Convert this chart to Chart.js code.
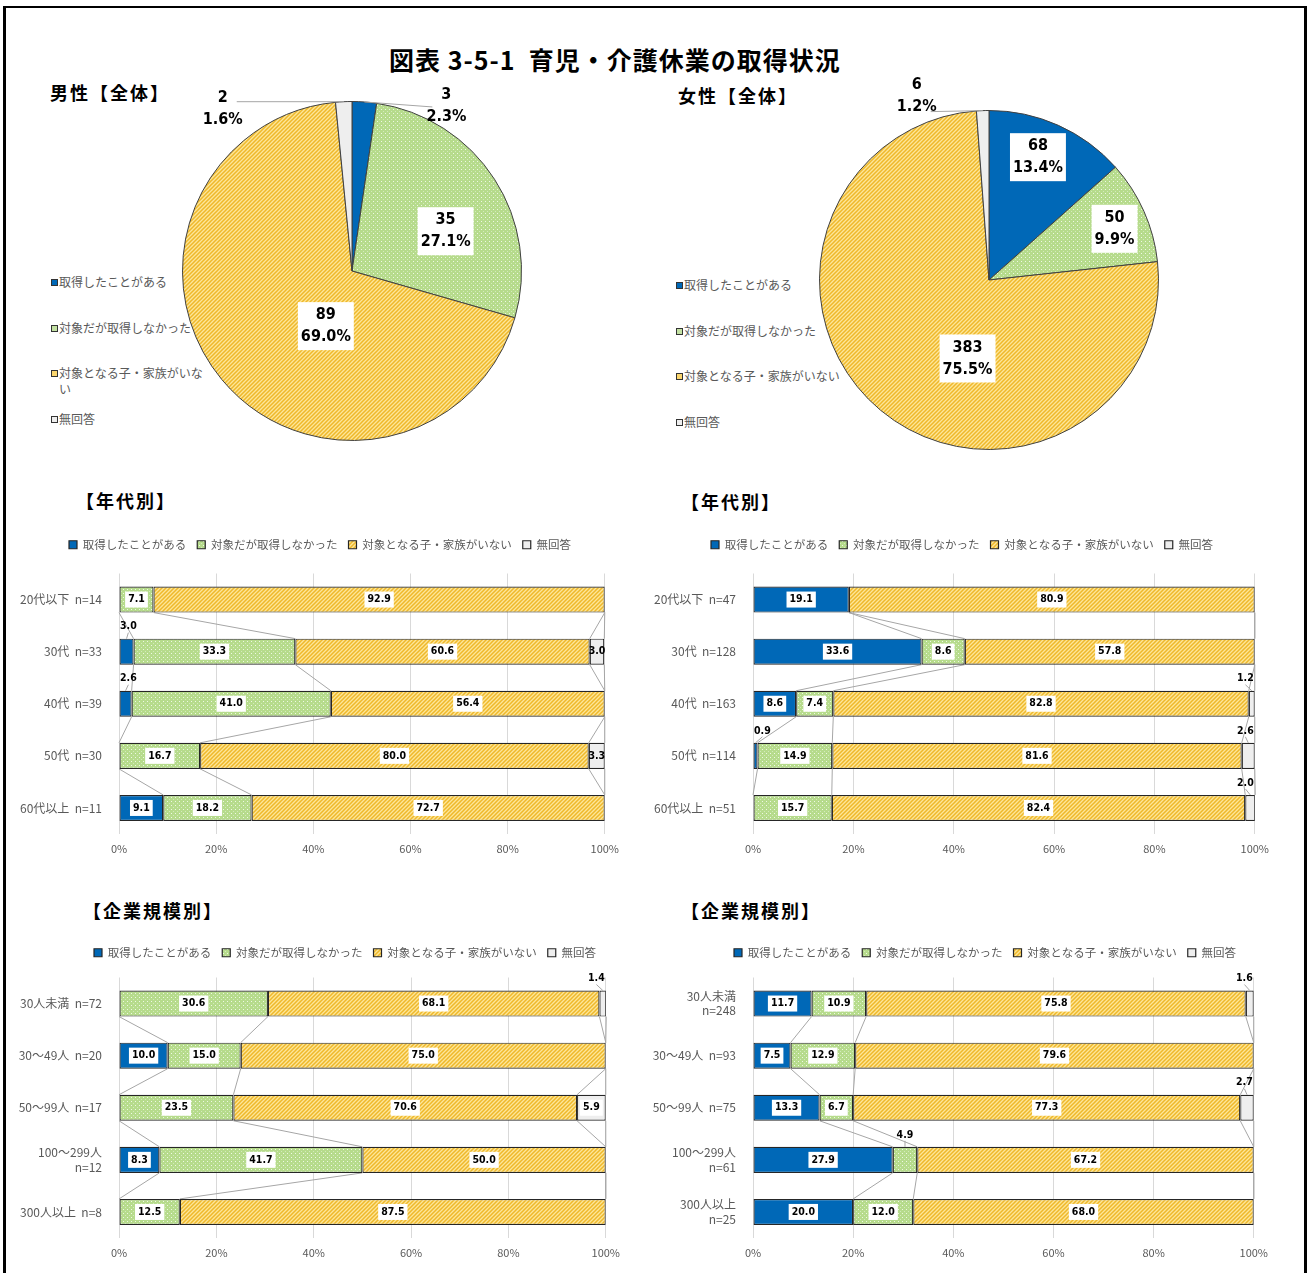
<!DOCTYPE html>
<html lang="ja">
<head>
<meta charset="utf-8">
<title>育児・介護休業の取得状況</title>
<script src="https://cdn.jsdelivr.net/npm/chart.js@4.4.1/dist/chart.umd.min.js"></script>
<style>
  body { margin: 0; background: #fff; font-family: "Noto Sans CJK JP", sans-serif; }
  #page { position: relative; width: 1309px; height: 1273px; overflow: hidden; }
  .frame { position: absolute; left: 3px; top: 6px; width: 1298px; height: 1320px; border: 3px solid #000; border-top-width: 2px; }
  .title { position: absolute; left: 389px; top: 43px; font-size: 25px; font-weight: bold; white-space: nowrap; line-height: 32px; letter-spacing: 1px; }
  .sub { position: absolute; font-size: 18px; font-weight: bold; white-space: nowrap; letter-spacing: 2px; line-height: 22px; }
  .pie-legend { position: absolute; font-size: 12px; color: #595959; line-height: 16px; }
  .pie-legend div { position: absolute; left: 0; white-space: normal; padding-left: 8px; }
  .pie-legend i { position: absolute; left: 0; top: 5px; width: 5px; height: 5px; border: 1px solid #333; }
  canvas { position: absolute; }
</style>
</head>
<body>
<div id="page">
  <div class="frame"></div>
  <div class="title">図表 3-5-1&nbsp;&nbsp;育児・介護休業の取得状況</div>

  <div class="sub" style="left:50px; top:81px;">男性【全体】</div>
  <div class="sub" style="left:678px; top:84px;">女性【全体】</div>
  <div class="sub" style="left:76px; top:489px;">【年代別】</div>
  <div class="sub" style="left:681px; top:490px;">【年代別】</div>
  <div class="sub" style="left:83px; top:899px;">【企業規模別】</div>
  <div class="sub" style="left:681px; top:899px;">【企業規模別】</div>

  <div class="pie-legend" id="legMale" style="left:51px; top:274px; width:160px;"></div>
  <div class="pie-legend" id="legFemale" style="left:676px; top:277px; width:200px;"></div>

  <canvas id="pieMale" width="430" height="380" style="left:140px; top:80px;"></canvas>
  <canvas id="pieFemale" width="420" height="420" style="left:780px; top:60px;"></canvas>
  <canvas id="ageMale" width="617" height="330" style="left:10px; top:528px;"></canvas>
  <canvas id="ageFemale" width="632" height="330" style="left:645px; top:528px;"></canvas>
  <canvas id="sizeMale" width="618" height="326" style="left:10px; top:936px;"></canvas>
  <canvas id="sizeFemale" width="631" height="326" style="left:645px; top:936px;"></canvas>
</div>

<script>
// 回答区分
const answers = ['取得したことがある', '対象だが取得しなかった', '対象となる子・家族がいない', '無回答'];

// 全体（人数）
const maleTotal = [3, 35, 89, 2];
const femaleTotal = [68, 50, 383, 6];

// 年代別（%）男性
const ageMaleCats = ['20代以下  n=14', '30代  n=33', '40代  n=39', '50代  n=30', '60代以上  n=11'];
const ageMaleTook = [0, 3.0, 2.6, 0, 9.1];
const ageMaleDidnt = [7.1, 33.3, 41.0, 16.7, 18.2];
const ageMaleNone = [92.9, 60.6, 56.4, 80.0, 72.7];
const ageMaleNoAns = [0, 3.0, 0, 3.3, 0];

// 年代別（%）女性
const ageFemaleCats = ['20代以下  n=47', '30代  n=128', '40代  n=163', '50代  n=114', '60代以上  n=51'];
const ageFemaleTook = [19.1, 33.6, 8.6, 0.9, 0];
const ageFemaleDidnt = [0, 8.6, 7.4, 14.9, 15.7];
const ageFemaleNone = [80.9, 57.8, 82.8, 81.6, 82.4];
const ageFemaleNoAns = [0, 0, 1.2, 2.6, 2.0];

// 企業規模別（%）男性
const sizeMaleCats = ['30人未満  n=72', '30～49人  n=20', '50～99人  n=17', ['100～299人', 'n=12'], '300人以上  n=8'];
const sizeMaleTook = [0, 10.0, 0, 8.3, 0];
const sizeMaleDidnt = [30.6, 15.0, 23.5, 41.7, 12.5];
const sizeMaleNone = [68.1, 75.0, 70.6, 50.0, 87.5];
const sizeMaleNoAns = [1.4, 0, 5.9, 0, 0];

// 企業規模別（%）女性
const sizeFemaleCats = [['30人未満', 'n=248'], '30～49人  n=93', '50～99人  n=75', ['100～299人', 'n=61'], ['300人以上', 'n=25']];
const sizeFemaleTook = [11.7, 7.5, 13.3, 27.9, 20.0];
const sizeFemaleDidnt = [10.9, 12.9, 6.7, 4.9, 12.0];
const sizeFemaleNone = [75.8, 79.6, 77.3, 67.2, 68.0];
const sizeFemaleNoAns = [1.6, 0, 2.7, 0, 0];

const xTicks = [0, 20, 40, 60, 80, 100];

Chart.defaults.font.family = '"Noto Sans CJK JP", sans-serif';
Chart.defaults.color = '#595959';

const NUM_FONT = '"Liberation Sans Narrow", "DejaVu Sans Condensed", "Liberation Sans", sans-serif';

// fill textures: dotted green, hatched yellow
function dotPattern() {
  const c = document.createElement('canvas');
  c.width = 4; c.height = 4;
  const g = c.getContext('2d');
  g.fillStyle = '#b6db8c';
  g.fillRect(0, 0, 4, 4);
  g.fillStyle = '#eef8e4';
  g.fillRect(1, 1, 1, 1);
  g.fillStyle = '#d3ebbb';
  g.fillRect(3, 3, 1, 1);
  return g.createPattern(c, 'repeat');
}
function hatchPattern() {
  const c = document.createElement('canvas');
  c.width = 4; c.height = 4;
  const g = c.getContext('2d');
  g.fillStyle = '#fde699';
  g.fillRect(0, 0, 4, 4);
  g.strokeStyle = '#efb82a';
  g.lineWidth = 1.5;
  g.beginPath();
  g.moveTo(0, 4); g.lineTo(4, 0);
  g.moveTo(-1, 1); g.lineTo(1, -1);
  g.moveTo(3, 5); g.lineTo(5, 3);
  g.stroke();
  return g.createPattern(c, 'repeat');
}
const fills = ['#0068b7', dotPattern(), hatchPattern(), '#eeeeee'];
const swatch = ['#0068b7', '#c3e1a2', '#fbd66e', '#eeeeee'];

// pie legends
function pieLegend(id, step) {
  const box = document.getElementById(id);
  answers.forEach((a, k) => {
    const d = document.createElement('div');
    d.style.top = (k * step) + 'px';
    d.innerHTML = '<i style="background:' + swatch[k] + '"></i>' + a;
    box.appendChild(d);
  });
}
pieLegend('legMale', 45.7);
pieLegend('legFemale', 45.7);

// pie labels: count + share, inside a white box or outside with a leader
const pieLabels = {
  id: 'pieLabels',
  afterDatasetsDraw(chart, args, opts) {
    const ctx = chart.ctx;
    const vals = chart.data.datasets[0].data;
    const total = vals.reduce((a, b) => a + b, 0);
    ctx.save();
    ctx.font = 'bold 16px ' + NUM_FONT;
    ctx.textAlign = 'center';
    ctx.textBaseline = 'middle';
    chart.getDatasetMeta(0).data.forEach((arc, i) => {
      const pct = (vals[i] / total * 100).toFixed(1) + '%';
      const r = arc.outerRadius;
      const out = opts.outside[i];
      let lx, ly;
      if (out) {
        const mid = (arc.startAngle + arc.endAngle) / 2;
        const ex = arc.x + Math.cos(mid) * r;
        const ey = arc.y + Math.sin(mid) * r;
        lx = ex + out[0];
        ly = ey + out[1];
        const sg = Math.sign(out[0]);
        ctx.strokeStyle = '#a6a6a6';
        ctx.lineWidth = 1;
        ctx.beginPath();
        ctx.moveTo(ex, ey);
        ctx.lineTo(lx - sg * 14, ey + out[2]);
        ctx.stroke();
      } else {
        // [radius fraction, share of the arc where the label sits]
        const [f, t] = opts.inside[i];
        const ang = arc.startAngle + (arc.endAngle - arc.startAngle) * t;
        lx = arc.x + Math.cos(ang) * r * f;
        ly = arc.y + Math.sin(ang) * r * f;
        const w = Math.max(ctx.measureText(pct).width, ctx.measureText(String(vals[i])).width) + 6;
        ctx.fillStyle = '#ffffff';
        ctx.fillRect(lx - w / 2, ly - 24, w, 48);
      }
      ctx.fillStyle = '#000';
      ctx.fillText(String(vals[i]), lx, ly - 11);
      ctx.fillText(pct, lx, ly + 11);
    });
    ctx.restore();
  }
};

function pie(id, data, pad, labelOpts) {
  return new Chart(document.getElementById(id), {
    type: 'pie',
    data: {
      labels: answers,
      datasets: [{
        data: data,
        backgroundColor: fills,
        borderColor: '#404040',
        borderWidth: 1
      }]
    },
    options: {
      responsive: false,
      animation: false,
      layout: { padding: pad },
      plugins: {
        legend: { display: false },
        tooltip: { enabled: false },
        pieLabels: labelOpts
      }
    },
    plugins: [pieLabels]
  });
}

pie('pieMale', maleTotal, { left: 42, right: 48, top: 21, bottom: 19 },
  { inside: [null, [0.6, 0.6], [0.36, 0.4], null], outside: { 0: [82, 4, 5], 3: [-121, 7, 0] } });
pie('pieFemale', femaleTotal, { left: 39, right: 41, top: 50, bottom: 30 },
  { inside: [[0.78, 0.45], [0.8, 0.55], [0.48, 0.41], null], outside: { 3: [-66, -15, 1] } });

// extra room under the legend, and a sideways nudge of its row
function legendPlace(extra, shift) {
  return {
    id: 'legendPlace',
    beforeInit(chart) {
      const fit = chart.legend.fit;
      chart.legend.fit = function () {
        fit.bind(chart.legend)();
        this.height += extra;
      };
    },
    afterLayout(chart) {
      chart.legend.left += shift;
      chart.legend.right += shift;
    }
  };
}

// Excel-style series lines joining the segment edges of neighbouring bars
const seriesLines = {
  id: 'seriesLines',
  beforeDatasetsDraw(chart) {
    const ctx = chart.ctx;
    ctx.save();
    ctx.strokeStyle = '#a6a6a6';
    ctx.lineWidth = 1;
    chart.data.datasets.forEach((ds, di) => {
      const bars = chart.getDatasetMeta(di).data;
      for (let i = 0; i < bars.length - 1; i++) {
        const a = bars[i], b = bars[i + 1];
        ctx.beginPath();
        ctx.moveTo(a.x, a.y + a.height / 2);
        ctx.lineTo(b.x, b.y - b.height / 2);
        ctx.stroke();
      }
    });
    ctx.restore();
  }
};

// value labels on the segments
const barLabels = {
  id: 'barLabels',
  afterDatasetsDraw(chart, args, opts) {
    const ctx = chart.ctx;
    const area = chart.chartArea;
    ctx.save();
    ctx.font = 'bold 10.5px ' + NUM_FONT;
    ctx.textAlign = 'center';
    ctx.textBaseline = 'middle';
    chart.data.datasets.forEach((ds, di) => {
      chart.getDatasetMeta(di).data.forEach((bar, i) => {
        const v = ds.data[i];
        if (!v) return;
        const txt = v.toFixed(1);
        const tw = ctx.measureText(txt).width;
        const segW = Math.abs(bar.x - bar.base);
        const cx = (bar.x + bar.base) / 2;
        const top = bar.y - bar.height / 2;
        if (v < opts.outsideBelow && !opts.keepInside.includes(di)) {
          const lx = Math.min(Math.max(cx, area.left + tw / 2 + 1), area.right - tw / 2 - 1);
          const ly = top - 12;
          ctx.strokeStyle = '#a6a6a6';
          ctx.lineWidth = 1;
          ctx.beginPath();
          ctx.moveTo(lx, ly + 6);
          ctx.lineTo(cx, top);
          ctx.stroke();
          ctx.fillStyle = '#000';
          ctx.fillText(txt, lx, ly);
        } else {
          if (tw + 6 < segW) {
            ctx.fillStyle = '#ffffff';
            ctx.fillRect(cx - tw / 2 - 3, bar.y - 8, tw + 6, 16);
          }
          ctx.fillStyle = '#000';
          ctx.fillText(txt, cx, bar.y);
        }
      });
    });
    ctx.restore();
  }
};

function stackedBar(id, cats, series, o) {
  return new Chart(document.getElementById(id), {
    type: 'bar',
    data: {
      labels: cats,
      datasets: series.map((d, k) => ({
        label: answers[k],
        data: d,
        backgroundColor: fills[k],
        borderColor: '#262626',
        borderWidth: 1.2,
        borderSkipped: false,
        barPercentage: 0.5,
        categoryPercentage: 1
      }))
    },
    options: {
      indexAxis: 'y',
      responsive: false,
      animation: false,
      layout: { padding: 0 },
      scales: {
        x: {
          stacked: true,
          min: 0,
          max: 100,
          afterBuildTicks: s => { s.ticks = xTicks.map(v => ({ value: v })); },
          ticks: { callback: v => v + '%', font: { size: 11 }, padding: 8, color: '#595959' },
          grid: { color: '#d9d9d9', drawTicks: false },
          border: { display: false },
          afterFit: s => { s.height = 24; }
        },
        y: {
          stacked: true,
          ticks: { font: { size: 12 }, padding: 9, color: '#595959' },
          grid: { display: false },
          border: { display: false },
          afterFit: s => { s.width = o.axisWidth; }
        }
      },
      plugins: {
        legend: {
          position: 'top',
          labels: { boxWidth: 8, boxHeight: 8, font: { size: 11.5 }, padding: 11, color: '#595959' }
        },
        tooltip: { enabled: false },
        barLabels: { outsideBelow: 5, keepInside: o.keepInside || [] }
      }
    },
    plugins: [legendPlace(o.gap, o.shift), seriesLines, barLabels]
  });
}

stackedBar('ageMale', ageMaleCats, [ageMaleTook, ageMaleDidnt, ageMaleNone, ageMaleNoAns],
  { axisWidth: 109, gap: 13, shift: 1.5, keepInside: [3] });
stackedBar('ageFemale', ageFemaleCats, [ageFemaleTook, ageFemaleDidnt, ageFemaleNone, ageFemaleNoAns],
  { axisWidth: 108, gap: 13, shift: 1 });
stackedBar('sizeMale', sizeMaleCats, [sizeMaleTook, sizeMaleDidnt, sizeMaleNone, sizeMaleNoAns],
  { axisWidth: 109, gap: 9, shift: 26 });
stackedBar('sizeFemale', sizeFemaleCats, [sizeFemaleTook, sizeFemaleDidnt, sizeFemaleNone, sizeFemaleNoAns],
  { axisWidth: 108, gap: 9, shift: 24.5 });
</script>
</body>
</html>
